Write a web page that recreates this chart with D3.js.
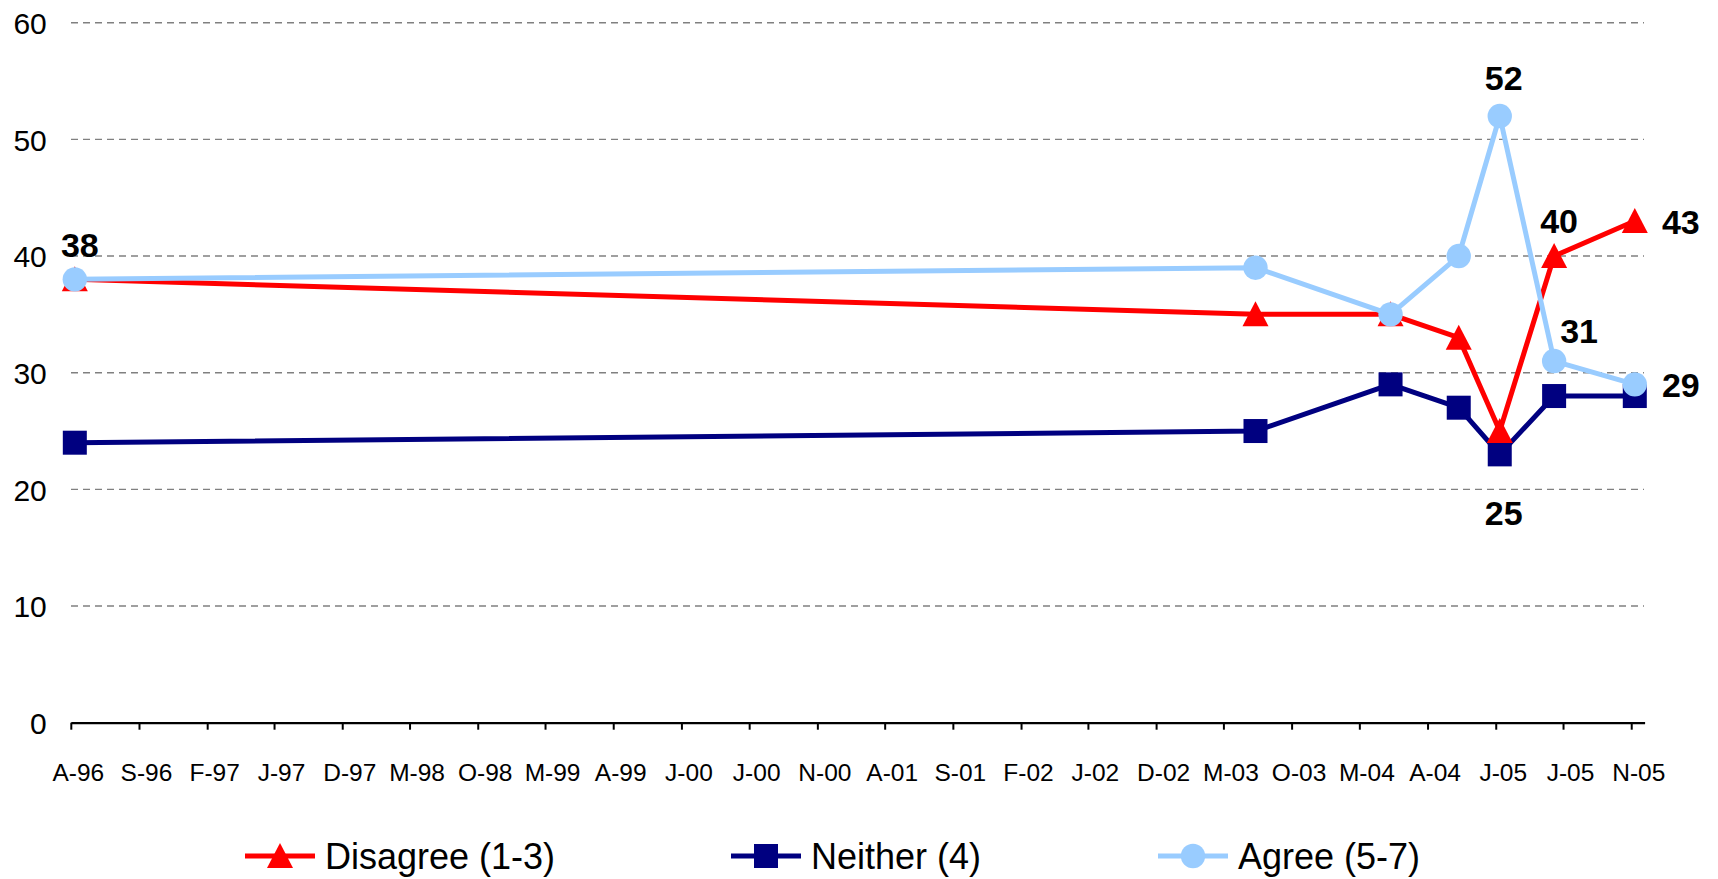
<!DOCTYPE html>
<html><head><meta charset="utf-8">
<script src="https://cdn.jsdelivr.net/npm/d3@7"></script>
<style>
body{margin:0;background:#fff}
svg{display:block}
text{font-family:"Liberation Sans",Arial,sans-serif;fill:#000}
</style>
</head><body><svg id="c" width="1718" height="879"></svg>
<script>
// ---- data ----
const surveyDates = ["1996-04-10","2003-07-12","2004-05-10","2004-10-10","2005-01-10","2005-05-12","2005-11-09"];
const disagree = [38,35,35,33,25,40,43];
const neither  = [24,25,29,27,23,28,28];
const agree    = [38,39,35,40,52,31,29];
const seriesNames = ["Disagree (1-3)","Neither (4)","Agree (5-7)"];
const tickLabels = ["A-96","S-96","F-97","J-97","D-97","M-98","O-98","M-99","A-99","J-00","J-00","N-00",
                    "A-01","S-01","F-02","J-02","D-02","M-03","O-03","M-04","A-04","J-05","J-05","N-05"];
const yTicks = [0,10,20,30,40,50,60];
const axisRange = ["1996-04-01","2005-12-01"];
const firstTick = "1996-04-01";
const tickStepMonths = 5;
// data labels: series, point index
const dataLabels = [
  {series:"agree", i:0},
  {series:"agree", i:4},
  {series:"disagree", i:4},
  {series:"disagree", i:5},
  {series:"disagree", i:6},
  {series:"agree", i:5},
  {series:"agree", i:6}
];

// ---- layout / style ----
const labelOffsets = [[5,-34],[4,-38],[4,82],[5,-35],[46,1],[25,-30],[46,1]];
const colors = {disagree:"#FF0000", neither:"#000080", agree:"#99CCFF"};
const svg = d3.select("#c");
const parse = d3.utcParse("%Y-%m-%d");
const x = d3.scaleUtc().domain(axisRange.map(parse)).range([70.8, 1644.6]);
const y = d3.scaleLinear().domain([0,60]).range([722.7, 22.7]);

// gridlines
svg.append("g").selectAll("line").data(yTicks.filter(d=>d>0)).join("line")
  .attr("x1", 71).attr("x2", 1644)
  .attr("y1", d=>y(d)).attr("y2", d=>y(d))
  .attr("stroke","#808080").attr("stroke-width",1.4).attr("stroke-dasharray","7,5");

// x axis
const tickDates = tickLabels.map((_,i)=>d3.utcMonth.offset(parse(firstTick), i*tickStepMonths));
const xAxis = svg.append("g").attr("transform",`translate(0,${y(0)})`)
  .call(d3.axisBottom(x).tickValues(tickDates).tickSize(7).tickSizeOuter(0).tickFormat((d,i)=>tickLabels[i]));
xAxis.select(".domain").attr("stroke","#000").attr("stroke-width",2.2);
xAxis.selectAll(".tick line").attr("stroke","#000").attr("stroke-width",2);
xAxis.selectAll(".tick text").attr("y",58).attr("dy",0).attr("dx",7)
  .style("font-size","24.5px").style("font-family",'"Liberation Sans",Arial,sans-serif').attr("fill","#000");

// y axis
const yAxis = svg.append("g").attr("transform","translate(70.8,0)")
  .call(d3.axisLeft(y).tickValues(yTicks).tickSize(0).tickPadding(24));
yAxis.select(".domain").remove();
yAxis.selectAll(".tick text").style("font-size","30px")
  .style("font-family",'"Liberation Sans",Arial,sans-serif').attr("fill","#000").attr("dy","0.36em");

// series
const dates = surveyDates.map(parse);
const seriesData = {disagree, neither, agree};
const line = d3.line().x((d,i)=>x(dates[i])).y(d=>y(d));
const triPath = "M0,-13L13,12L-13,12Z";
function marker(g, key, cx, cy){
  if(key==="disagree") g.append("path").attr("d",triPath).attr("transform",`translate(${cx},${cy})`).attr("fill",colors[key]);
  else if(key==="neither") g.append("rect").attr("x",cx-12).attr("y",cy-12).attr("width",24).attr("height",24).attr("fill",colors[key]);
  else g.append("circle").attr("cx",cx).attr("cy",cy).attr("r",12.2).attr("fill",colors[key]);
}
["neither","disagree","agree"].forEach(key=>{
  const g = svg.append("g");
  g.append("path").datum(seriesData[key]).attr("d",line)
    .attr("fill","none").attr("stroke",colors[key]).attr("stroke-width",5).attr("stroke-linejoin","round");
  seriesData[key].forEach((v,i)=>marker(g,key,x(dates[i]),y(v)));
});

// data labels
svg.append("g").selectAll("text").data(dataLabels).join("text")
  .attr("x",(d,k)=>x(dates[d.i])+labelOffsets[k][0])
  .attr("y",(d,k)=>y(seriesData[d.series][d.i])+labelOffsets[k][1])
  .attr("text-anchor","middle").attr("dominant-baseline","central")
  .style("font-size","34px").style("font-weight","bold")
  .text(d=>seriesData[d.series][d.i]);

// legend
const legendKeys = ["disagree","neither","agree"];
const legendX = [245, 731, 1158];
const lg = svg.append("g");
legendKeys.forEach((key,k)=>{
  const lx = legendX[k], ly = 856;
  lg.append("line").attr("x1",lx).attr("x2",lx+70).attr("y1",ly).attr("y2",ly)
    .attr("stroke",colors[key]).attr("stroke-width",5);
  marker(lg,key,lx+35,ly);
  lg.append("text").attr("x",lx+80).attr("y",869).style("font-size","36px").text(seriesNames[k]);
});
</script>
</body></html>
